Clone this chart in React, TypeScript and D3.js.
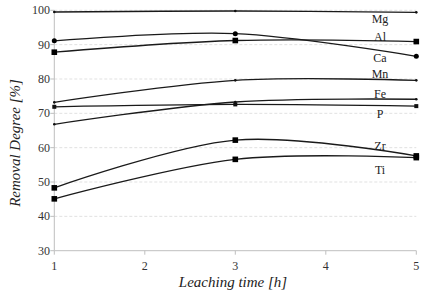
import React from 'react'
import * as d3 from 'd3'

const times = [1, 3, 5]
const xTicks = [1, 2, 3, 4, 5]
const yTicks = [30, 40, 50, 60, 70, 80, 90, 100]

const mg = [99.5, 99.8, 99.4]
const al = [91.1, 93.2, 86.6]
const ca = [87.8, 91.2, 90.9]
const mn = [73.2, 79.6, 79.6]
const p = [71.9, 72.6, 72.1]
const fe = [66.8, 73.3, 74.1]
const zr = [48.3, 62.2, 57.6]
const ti = [45.1, 56.6, 57.1]

// label text + value where it sits at the right end
const labels: [string, number][] = [
  ['Mg', 97.4],
  ['Al', 92.3],
  ['Ca', 86.2],
  ['Mn', 81.5],
  ['Fe', 75.6],
  ['P', 69.8],
  ['Zr', 60.5],
  ['Ti', 53.4],
]

type Marker = 'dot' | 'circle' | 'square' | 'none' | 'small'
const series: { name: string; values: number[]; marker: Marker }[] = [
  { name: 'Mg', values: mg, marker: 'dot' },
  { name: 'Al', values: al, marker: 'circle' },
  { name: 'Ca', values: ca, marker: 'square' },
  { name: 'Mn', values: mn, marker: 'dot' },
  { name: 'P', values: p, marker: 'small' },
  { name: 'Fe', values: fe, marker: 'dot' },
  { name: 'Zr', values: zr, marker: 'square' },
  { name: 'Ti', values: ti, marker: 'square' },
]

const App = () => {
  const svgRef = React.useRef<SVGSVGElement>(null)
  const width = 430
  const height = 297

  React.useEffect(() => {
    const svg = d3.select(svgRef.current)
    svg.selectAll('*').remove()

    const x = d3.scaleLinear().domain([1, 5]).range([54.3, 416.3])
    const y = d3.scaleLinear().domain([30, 100]).range([250.7, 10.3])
    const font = '"Liberation Serif", "Times New Roman", serif'

    // grid
    svg.append('g')
      .selectAll('line')
      .data(yTicks.filter((d) => d > 30))
      .join('line')
      .attr('x1', x(1))
      .attr('x2', x(5))
      .attr('y1', (d) => y(d))
      .attr('y2', (d) => y(d))
      .attr('stroke', '#d9d9d9')
      .attr('stroke-width', 0.8)
      .attr('stroke-dasharray', '3,2')

    // axes
    const ax = svg.append('g').attr('stroke', '#bfbfbf').attr('stroke-width', 1)
    ax.append('line').attr('x1', x(1)).attr('x2', x(1)).attr('y1', y(100)).attr('y2', y(30))
    ax.append('line').attr('x1', x(1)).attr('x2', x(5)).attr('y1', y(30)).attr('y2', y(30))
    ax.selectAll('.xt')
      .data(xTicks)
      .join('line')
      .attr('x1', (d) => x(d))
      .attr('x2', (d) => x(d))
      .attr('y1', y(30))
      .attr('y2', y(30) + 4)
    ax.selectAll('.yt')
      .data(yTicks)
      .join('line')
      .attr('x1', x(1) - 4)
      .attr('x2', x(1))
      .attr('y1', (d) => y(d))
      .attr('y2', (d) => y(d))

    svg.append('g')
      .style('font', `12px ${font}`)
      .attr('fill', '#333')
      .attr('text-anchor', 'end')
      .selectAll('text')
      .data(yTicks)
      .join('text')
      .attr('x', 50)
      .attr('y', (d) => y(d) + 4)
      .text((d) => d)

    svg.append('g')
      .style('font', `12px ${font}`)
      .attr('fill', '#333')
      .attr('text-anchor', 'middle')
      .selectAll('text')
      .data(xTicks)
      .join('text')
      .attr('x', (d) => x(d))
      .attr('y', 270)
      .text((d) => d)

    svg.append('text')
      .attr('x', 233)
      .attr('y', 287)
      .attr('text-anchor', 'middle')
      .style('font', `italic 15px ${font}`)
      .attr('fill', '#222')
      .text('Leaching time [h]')

    svg.append('text')
      .attr('transform', `translate(20,143) rotate(-90)`)
      .attr('text-anchor', 'middle')
      .style('font', `italic 15px ${font}`)
      .attr('fill', '#222')
      .text('Removal Degree [%]')

    const line = d3.line<number>()
      .x((_, i) => x(times[i]))
      .y((d) => y(d))
      .curve(d3.curveCardinal.tension(0))

    const g = svg.append('g')
    series.forEach((s) => {
      g.append('path')
        .attr('d', line(s.values))
        .attr('fill', 'none')
        .attr('stroke', '#1a1a1a')
        .attr('stroke-width', 1.3)

      s.values.forEach((v, i) => {
        const cx = x(times[i])
        const cy = y(v)
        if (s.marker === 'circle') {
          g.append('circle').attr('cx', cx).attr('cy', cy).attr('r', 2.5).attr('fill', '#000')
        } else if (s.marker === 'square') {
          g.append('rect').attr('x', cx - 2.8).attr('y', cy - 2.8).attr('width', 5.6).attr('height', 5.6).attr('fill', '#000')
        } else if (s.marker === 'small') {
          g.append('rect').attr('x', cx - 2).attr('y', cy - 2).attr('width', 4).attr('height', 4).attr('fill', '#111')
        } else if (s.marker === 'dot') {
          g.append('circle').attr('cx', cx).attr('cy', cy).attr('r', 1.3).attr('fill', '#111')
        }
      })
    })

    svg.append('g')
      .style('font', `12px ${font}`)
      .attr('fill', '#222')
      .attr('text-anchor', 'middle')
      .selectAll('text')
      .data(labels)
      .join('text')
      .attr('x', 380)
      .attr('y', (d) => y(d[1]) + 4)
      .text((d) => d[0])
  }, [])

  return (
    <svg
      ref={svgRef}
      width={width}
      height={height}
      style={{ position: 'absolute', left: 0, top: 0, background: '#fff' }}
    />
  )
}

export default App
